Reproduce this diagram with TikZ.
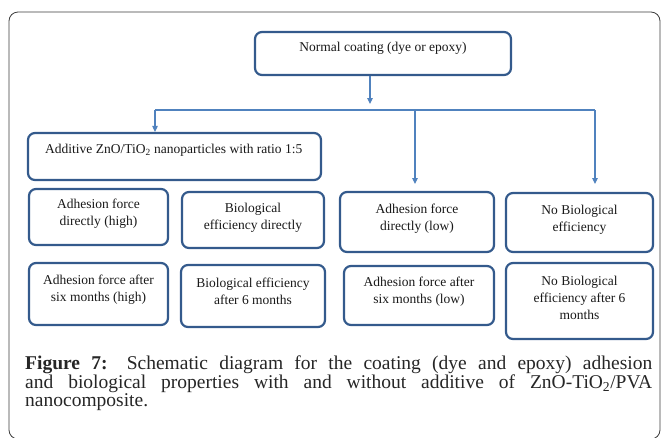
\documentclass[tikz,border=0pt]{standalone}
\usepackage{fontspec}
\setmainfont{Liberation Serif}
\newfontfamily\capfont{Liberation Serif}
\usetikzlibrary{arrows.meta,calc}
\definecolor{boxblue}{RGB}{52,90,140}
\definecolor{arrowblue}{RGB}{80,130,190}
\definecolor{framegray}{RGB}{60,60,60}
\tikzset{
  boxst/.style={draw=boxblue, line width=2.2pt, rounded corners=7pt, fill=white, inner sep=0pt},
  txt/.style={font=\fontsize{13.5}{17}\selectfont, align=center, inner sep=0pt, text=black!90},
  arr/.style={draw=arrowblue, line width=1.1pt, -{Triangle[width=5.5pt,length=6pt]}},
  conn/.style={draw=arrowblue, line width=1.1pt},
  capline/.style={font=\capfont\fontsize{19.5}{19}\selectfont, anchor=base west, inner sep=0pt, text=black!85}
}
\begin{document}
\begin{tikzpicture}[x=1pt,y=-1pt]
\useasboundingbox (0,0) rectangle (662,437);
\draw[framegray, line width=0.8pt, rounded corners=9pt] (9,12) rectangle (660,439);
% boxes
\node[boxst, minimum width=256pt, minimum height=43pt] (top) at (383,53.5) {};
\node[txt] (ttop) at (383,48) {Normal coating (dye or epoxy)};
\node[boxst, minimum width=293pt, minimum height=47pt] (add) at (174.5,156.5) {};
\node[txt, anchor=base west] (tadd) at (45,153) {Additive ZnO/TiO\textsubscript{2} nanoparticles with ratio 1:5};
\node[boxst, minimum width=139pt, minimum height=56pt] (b1) at (98.5,217) {};
\node[txt] at ($(b1)+(0,-3)$) {Adhesion force\\directly (high)};
\node[boxst, minimum width=142pt, minimum height=56pt] (b2) at (253,220) {};
\node[txt] at ($(b2)+(0,-2)$) {Biological\\efficiency directly};
\node[boxst, minimum width=154pt, minimum height=60pt] (b3) at (417,222) {};
\node[txt] at ($(b3)+(0,-3.5)$) {Adhesion force\\directly (low)};
\node[boxst, minimum width=147pt, minimum height=59pt] (b4) at (579.5,222.5) {};
\node[txt] at ($(b4)+(0,-2.5)$) {No Biological\\efficiency};
\node[boxst, minimum width=139pt, minimum height=62pt] (b5) at (98.5,294) {};
\node[txt] at ($(b5)+(0,-4)$) {Adhesion force after\\six months (high)};
\node[boxst, minimum width=144pt, minimum height=62pt] (b6) at (253,296) {};
\node[txt] at ($(b6)+(0,-4.5)$) {Biological efficiency\\after 6 months};
\node[boxst, minimum width=150pt, minimum height=59pt] (b7) at (419,295.5) {};
\node[txt] at ($(b7)+(0,-4)$) {Adhesion force after\\six months (low)};
\node[boxst, minimum width=147pt, minimum height=76pt] (b8) at (579.5,301) {};
\node[txt] at ($(b8)+(0,-3)$) {No Biological\\efficiency after 6\\months};
% connectors
\coordinate (j) at (370,110);
\coordinate (hl) at (155,110);
\coordinate (hm) at (415,110);
\coordinate (hr) at (595,110);
\coordinate (e3) at (415,184);
\coordinate (e4) at (595,184);
\draw[arr] (top.south -| j) -- ($(j)+(0,-6)$);
\draw[conn] (hl) -- (hr);
\draw[arr] (hl) -- (add.north -| hl);
\draw[arr] (hm) -- (e3);
\draw[arr] (hr) -- (e4);
% caption
\node[capline] (c1) at (25,369) {\makebox[627pt][s]{\textbf{Figure 7:} Schematic diagram for the coating (dye and epoxy) adhesion}};
\node[capline] (c2) at (25,388) {\makebox[627pt][s]{and biological properties with and without additive of ZnO-TiO\textsubscript{2}/PVA}};
\node[capline] (c3) at (25,406.5) {nanocomposite.};
\end{tikzpicture}
\end{document}
